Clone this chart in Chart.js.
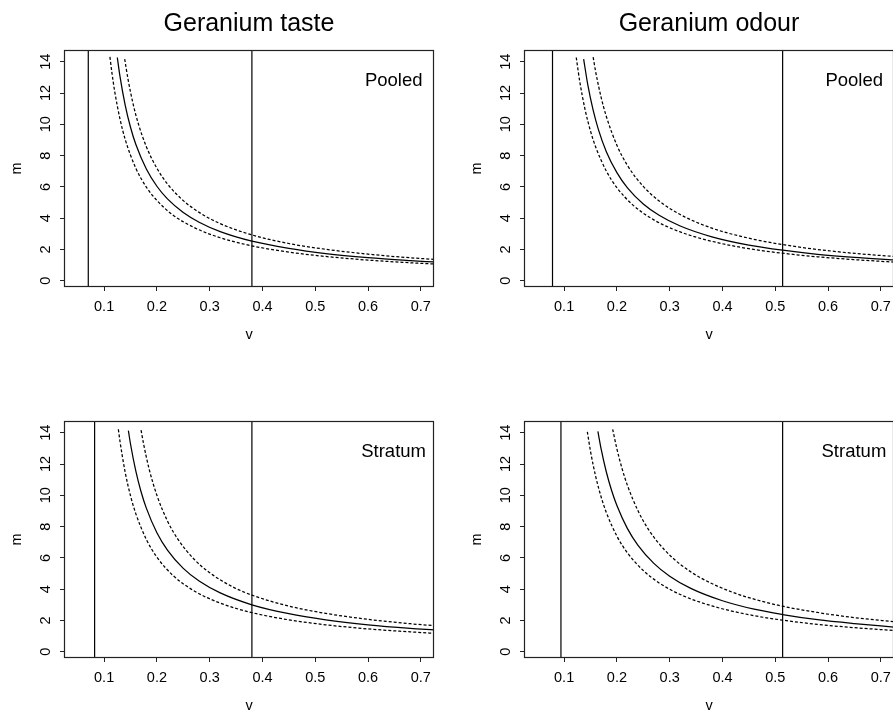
<!DOCTYPE html>
<html>
<head>
<meta charset="utf-8">
<title>Geranium taste / odour</title>
<script src="https://cdn.jsdelivr.net/npm/chart.js@4.4.1/dist/chart.umd.min.js"></script>
<style>
  html, body { margin: 0; padding: 0; background: #fff; overflow: hidden; width: 893px; height: 713px; }
  canvas { position: absolute; }
</style>
</head>
<body>
<canvas id="tastePooled" width="446" height="342" style="left:0px;top:0px"></canvas>
<canvas id="odourPooled" width="446" height="342" style="left:460px;top:0px"></canvas>
<canvas id="tasteStratum" width="446" height="342" style="left:0px;top:371px"></canvas>
<canvas id="odourStratum" width="446" height="342" style="left:460px;top:371px"></canvas>
<script>
// axis ranges and ticks (same for every panel)
const xMin = 0.024, xMax = 0.725;
const yMin = -0.4, yMax = 14.75;
const xTicks = [0.1, 0.2, 0.3, 0.4, 0.5, 0.6, 0.7];
const yTicks = [0, 2, 4, 6, 8, 10, 12, 14];

// Geranium taste, pooled
const tastePooledFitV = [0.125, 0.13, 0.14, 0.15, 0.16, 0.18, 0.20, 0.22, 0.25, 0.28, 0.32, 0.38, 0.45, 0.52, 0.60, 0.68, 0.725];
const tastePooledFitM = [14.27, 13.08, 11.21, 9.81, 8.72, 7.14, 6.04, 5.23, 4.36, 3.74, 3.14, 2.53, 2.07, 1.74, 1.48, 1.29, 1.20];
const tastePooledUpV = [0.139, 0.145, 0.155, 0.165, 0.18, 0.20, 0.22, 0.25, 0.28, 0.32, 0.38, 0.45, 0.52, 0.60, 0.68, 0.725];
const tastePooledUpM = [14.17, 12.94, 11.29, 10.02, 8.57, 7.19, 6.19, 5.12, 4.37, 3.65, 2.93, 2.38, 2.01, 1.70, 1.47, 1.37];
const tastePooledLoV = [0.111, 0.115, 0.12, 0.13, 0.14, 0.16, 0.18, 0.20, 0.23, 0.27, 0.32, 0.38, 0.45, 0.52, 0.60, 0.68, 0.725];
const tastePooledLoM = [14.31, 13.24, 12.11, 10.35, 9.03, 7.20, 5.99, 5.13, 4.21, 3.41, 2.75, 2.23, 1.83, 1.55, 1.32, 1.15, 1.07];
const tastePooledLines = [0.07, 0.38];

// Geranium odour, pooled
const odourPooledFitV = [0.137, 0.145, 0.155, 0.165, 0.18, 0.20, 0.22, 0.25, 0.28, 0.32, 0.38, 0.45, 0.514, 0.58, 0.65, 0.725];
const odourPooledFitM = [14.17, 12.50, 10.90, 9.66, 8.25, 6.91, 5.94, 4.91, 4.19, 3.50, 2.81, 2.28, 1.95, 1.69, 1.49, 1.33];
const odourPooledUpV = [0.155, 0.16, 0.17, 0.18, 0.20, 0.22, 0.25, 0.28, 0.32, 0.38, 0.45, 0.514, 0.58, 0.65, 0.725];
const odourPooledUpM = [14.29, 13.32, 11.74, 10.50, 8.66, 7.37, 6.03, 5.10, 4.23, 3.36, 2.72, 2.31, 2.00, 1.75, 1.55];
const odourPooledLoV = [0.123, 0.13, 0.14, 0.15, 0.16, 0.18, 0.20, 0.23, 0.27, 0.32, 0.38, 0.45, 0.514, 0.58, 0.65, 0.725];
const odourPooledLoM = [14.27, 12.66, 10.90, 9.57, 8.53, 7.01, 5.95, 4.85, 3.89, 3.12, 2.52, 2.05, 1.76, 1.53, 1.35, 1.19];
const odourPooledLines = [0.078, 0.514];

// Geranium taste, stratum
const tasteStratumFitV = [0.146, 0.15, 0.16, 0.17, 0.18, 0.20, 0.22, 0.25, 0.28, 0.32, 0.38, 0.45, 0.52, 0.60, 0.68, 0.725];
const tasteStratumFitM = [14.13, 13.28, 11.56, 10.23, 9.18, 7.61, 6.50, 5.33, 4.52, 3.76, 3.00, 2.43, 2.04, 1.72, 1.49, 1.39];
const tasteStratumUpV = [0.170, 0.175, 0.185, 0.20, 0.22, 0.24, 0.27, 0.30, 0.34, 0.38, 0.45, 0.52, 0.60, 0.68, 0.725];
const tasteStratumUpM = [14.17, 13.25, 11.72, 10.0, 8.36, 7.18, 5.93, 5.05, 4.21, 3.62, 2.92, 2.45, 2.07, 1.79, 1.67];
const tasteStratumLoV = [0.127, 0.13, 0.14, 0.15, 0.16, 0.18, 0.20, 0.23, 0.27, 0.32, 0.38, 0.45, 0.52, 0.60, 0.68, 0.725];
const tasteStratumLoM = [14.22, 13.47, 11.46, 9.97, 8.83, 7.18, 6.05, 4.89, 3.90, 3.11, 2.50, 2.04, 1.72, 1.46, 1.27, 1.18];
const tasteStratumLines = [0.082, 0.38];

// Geranium odour, stratum
const odourStratumFitV = [0.164, 0.17, 0.18, 0.19, 0.20, 0.22, 0.24, 0.27, 0.30, 0.34, 0.40, 0.46, 0.514, 0.58, 0.65, 0.725];
const odourStratumFitM = [14.08, 12.99, 11.49, 10.31, 9.35, 7.87, 6.80, 5.65, 4.83, 4.05, 3.26, 2.72, 2.38, 2.05, 1.80, 1.58];
const odourStratumUpV = [0.192, 0.20, 0.21, 0.22, 0.24, 0.26, 0.29, 0.32, 0.36, 0.42, 0.47, 0.514, 0.58, 0.65, 0.725];
const odourStratumUpM = [14.22, 12.97, 11.68, 10.63, 9.01, 7.81, 6.52, 5.59, 4.70, 3.79, 3.27, 2.91, 2.51, 2.18, 1.92];
const odourStratumLoV = [0.144, 0.15, 0.16, 0.17, 0.18, 0.20, 0.22, 0.25, 0.28, 0.32, 0.38, 0.45, 0.514, 0.58, 0.65, 0.725];
const odourStratumLoM = [14.06, 12.82, 11.18, 9.91, 8.90, 7.39, 6.32, 5.19, 4.40, 3.66, 2.93, 2.37, 2.02, 1.75, 1.54, 1.36];
const odourStratumLines = [0.094, 0.514];

const FONT = '"Liberation Sans", Arial, Helvetica, sans-serif';

const toPoints = (vs, ms) => vs.map((v, i) => ({ x: v, y: ms[i] }));

// R-style extras: box, rotated y labels, title and the corner label
const rStyle = {
    id: 'rStyle',
    afterDraw(chart) {
        const { ctx, chartArea, scales } = chart;
        const opts = chart.options.plugins.rStyle;
        ctx.save();
        ctx.strokeStyle = '#222';
        ctx.lineWidth = 1.2;
        ctx.strokeRect(chartArea.left + 0.5, chartArea.top + 0.5,
            chartArea.right - chartArea.left - 1, chartArea.bottom - chartArea.top - 1);

        ctx.fillStyle = '#000';
        ctx.font = '14.5px ' + FONT;
        ctx.textAlign = 'center';
        ctx.textBaseline = 'alphabetic';
        yTicks.forEach(t => {
            const py = scales.y.getPixelForValue(t);
            ctx.save();
            ctx.translate(chartArea.left - 14, py);
            ctx.rotate(-Math.PI / 2);
            ctx.fillText(String(t), 0, 0);
            ctx.restore();
        });

        ctx.font = '25px ' + FONT;
        ctx.textAlign = 'center';
        if (opts.title) {
            ctx.fillText(opts.title, (chartArea.left + chartArea.right) / 2, 30.5);
        }

        ctx.font = '18.5px ' + FONT;
        ctx.textAlign = 'right';
        ctx.fillText(opts.label, chartArea.right - opts.inset, chartArea.top + 35.7);
        ctx.restore();
    }
};

const makePanel = (id, title, label, inset, fitV, fitM, upV, upM, loV, loM, lines) => {
    const curve = (data, dashed) => ({
        data: data,
        borderColor: '#000',
        borderWidth: 1.25,
        borderDash: dashed ? [3, 2] : [],
        pointRadius: 0,
        cubicInterpolationMode: 'monotone',
        fill: false
    });
    const datasets = [
        curve(toPoints(fitV, fitM), false),
        curve(toPoints(upV, upM), true),
        curve(toPoints(loV, loM), true)
    ];
    lines.forEach(v => {
        datasets.push({
            data: [{ x: v, y: yMin }, { x: v, y: yMax }],
            borderColor: '#000',
            borderWidth: 1.2,
            pointRadius: 0,
            fill: false
        });
    });

    new Chart(document.getElementById(id), {
        type: 'line',
        data: { datasets: datasets },
        plugins: [rStyle],
        options: {
            responsive: false,
            animation: false,
            events: [],
            layout: { padding: { top: 50, right: 12, left: 0, bottom: 0 } },
            plugins: {
                legend: { display: false },
                tooltip: { enabled: false },
                rStyle: { title: title, label: label, inset: inset }
            },
            scales: {
                x: {
                    type: 'linear',
                    min: xMin,
                    max: xMax,
                    afterFit: (scale) => { scale.height = 55; },
                    afterBuildTicks: (scale) => { scale.ticks = xTicks.map(v => ({ value: v })); },
                    border: { display: false },
                    grid: { drawOnChartArea: false, drawTicks: true, tickLength: 4, color: '#222' },
                    ticks: {
                        color: '#000',
                        padding: 7,
                        maxRotation: 0,
                        font: { family: FONT, size: 14.5 },
                        callback: (value) => Number(value).toFixed(1)
                    },
                    title: {
                        display: true,
                        text: 'v',
                        color: '#000',
                        font: { family: FONT, size: 14.5, lineHeight: 1 },
                        padding: 0
                    }
                },
                y: {
                    type: 'linear',
                    min: yMin,
                    max: yMax,
                    afterFit: (scale) => { scale.width = 64; },
                    afterBuildTicks: (scale) => { scale.ticks = yTicks.map(v => ({ value: v })); },
                    border: { display: false },
                    grid: { drawOnChartArea: false, drawTicks: true, tickLength: 4, color: '#222' },
                    ticks: { display: false },
                    title: {
                        display: true,
                        text: 'm',
                        color: '#000',
                        font: { family: FONT, size: 14.5, lineHeight: 1 },
                        padding: { top: 9.5, bottom: 0 }
                    }
                }
            }
        }
    });
};

makePanel('tastePooled', 'Geranium taste', 'Pooled', 11.5,
    tastePooledFitV, tastePooledFitM, tastePooledUpV, tastePooledUpM, tastePooledLoV, tastePooledLoM, tastePooledLines);
makePanel('odourPooled', 'Geranium odour', 'Pooled', 11,
    odourPooledFitV, odourPooledFitM, odourPooledUpV, odourPooledUpM, odourPooledLoV, odourPooledLoM, odourPooledLines);
makePanel('tasteStratum', '', 'Stratum', 8,
    tasteStratumFitV, tasteStratumFitM, tasteStratumUpV, tasteStratumUpM, tasteStratumLoV, tasteStratumLoM, tasteStratumLines);
makePanel('odourStratum', '', 'Stratum', 7.7,
    odourStratumFitV, odourStratumFitM, odourStratumUpV, odourStratumUpM, odourStratumLoV, odourStratumLoM, odourStratumLines);
</script>
</body>
</html>
